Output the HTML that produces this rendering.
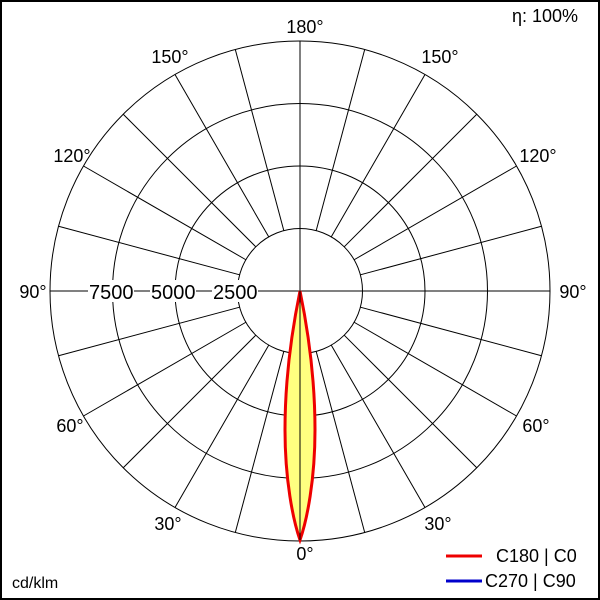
<!DOCTYPE html>
<html><head><style>
body{margin:0;background:#fff}
svg{display:block}
text{font-family:"Liberation Sans",sans-serif;font-size:18px;fill:#000}
</style></head><body>
<svg width="600" height="600" viewBox="0 0 600 600">
<rect x="1" y="1" width="598" height="598" fill="#fff" stroke="#000" stroke-width="2"/>
<g fill="none" stroke="#000" stroke-width="1">
<circle cx="300" cy="291" r="62.5"/>
<circle cx="300" cy="291" r="125"/>
<circle cx="300" cy="291" r="187.5"/>
<circle cx="300" cy="291" r="250"/>
<line x1="50" y1="291" x2="550" y2="291"/>
<line x1="300" y1="41" x2="300" y2="541"/>
<g id="sp"></g>
</g>
<path d="M300,291 C292,330 285,380 285,430 C285,480 293,520 300,540 C307,520 315,480 315,430 C315,380 308,330 300,291 Z" fill="#ffff80" stroke="#e00" stroke-width="3"/>
<line x1="300" y1="291" x2="300" y2="540" stroke="#000" stroke-width="1"/>
<rect x="88" y="280" width="46" height="22" fill="#fff"/>
<rect x="150" y="280" width="46" height="22" fill="#fff"/>
<rect x="212" y="280" width="46" height="22" fill="#fff"/>
<text x="89" y="299" style="font-size:20px">7500</text>
<text x="151" y="299" style="font-size:20px">5000</text>
<text x="213" y="299" style="font-size:20px">2500</text>
<text x="305" y="33" text-anchor="middle">180°</text>
<text x="170" y="63" text-anchor="middle">150°</text>
<text x="440" y="63" text-anchor="middle">150°</text>
<text x="72" y="162" text-anchor="middle">120°</text>
<text x="538" y="162" text-anchor="middle">120°</text>
<text x="33" y="298" text-anchor="middle">90°</text>
<text x="573" y="298" text-anchor="middle">90°</text>
<text x="70" y="432" text-anchor="middle">60°</text>
<text x="536" y="432" text-anchor="middle">60°</text>
<text x="168" y="530" text-anchor="middle">30°</text>
<text x="438" y="530" text-anchor="middle">30°</text>
<text x="305" y="560" text-anchor="middle">0°</text>
<text x="512" y="22">η: 100%</text>
<text x="12" y="588" style="font-size:16px">cd/klm</text>
<line x1="446" y1="556" x2="482" y2="556" stroke="#e00" stroke-width="3"/>
<text x="496" y="562">C180 | C0</text>
<line x1="446" y1="581" x2="482" y2="581" stroke="#00c" stroke-width="3"/>
<text x="485" y="587">C270 | C90</text>
</svg>
<script>
var g=document.getElementById('sp'),s='';
for(var a=15;a<360;a+=15){if(a%90==0)continue;var r=a*Math.PI/180,c=Math.cos(r),n=Math.sin(r);
s+='<line x1="'+(300+62.5*n)+'" y1="'+(291+62.5*c)+'" x2="'+(300+250*n)+'" y2="'+(291+250*c)+'"/>';}
g.innerHTML=s;
</script>
</body></html>
